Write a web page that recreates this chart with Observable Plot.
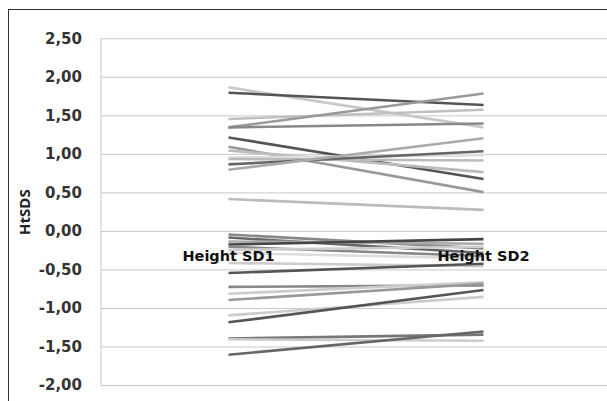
<!DOCTYPE html>
<html><head><meta charset="utf-8">
<script src="https://cdn.jsdelivr.net/npm/d3@7"></script>
<script src="https://cdn.jsdelivr.net/npm/@observablehq/plot@0.6"></script>
<style>
body{margin:0;background:#fff;}
#wrap{position:relative;width:607px;height:401px;overflow:hidden;}
#wrap svg{position:absolute;left:0;top:0;}
#border{position:absolute;left:8px;top:9px;width:700px;height:500px;border-top:1.5px solid #333;border-left:1.5px solid #333;pointer-events:none;}
</style></head>
<body><div id="wrap"><div id="border"></div></div>
<script>
const categories = ["Height SD1", "Height SD2"];
const sd1 = [1.87, 1.80, 1.46, 1.35, 1.35, 1.22, 1.10, 1.05, 0.96, 0.94, 0.87, 0.80, 0.42,
  -0.04, -0.08, -0.13, -0.17, -0.20, -0.24, -0.28, -0.41, -0.54, -0.72, -0.81, -0.89, -1.09, -1.18, -1.39, -1.40, -1.60];
const sd2 = [1.35, 1.64, 1.58, 1.79, 1.40, 0.68, 0.51, 0.77, 0.99, 0.92, 1.04, 1.21, 0.28,
  -0.22, -0.28, -0.16, -0.10, -0.32, -0.20, -0.35, -0.45, -0.42, -0.70, -0.66, -0.68, -0.85, -0.76, -1.34, -1.42, -1.30];
const shades = ["#c8c8c8", "#555555", "#c0c0c0", "#999999", "#888888", "#555555", "#999999", "#bbbbbb", "#dddddd", "#bbbbbb", "#666666", "#aaaaaa", "#bbbbbb",
  "#888888", "#666666", "#aaaaaa", "#444444", "#888888", "#cccccc", "#dddddd", "#cccccc", "#555555", "#888888", "#cccccc", "#999999", "#cccccc", "#555555", "#777777", "#cccccc", "#666666"];
const yTicks = [-2, -1.5, -1, -0.5, 0, 0.5, 1, 1.5, 2, 2.5];
const yLabel = "HtSDS";

const rows = sd1.map((v, i) => ({x1: 1, x2: 2, y1: v, y2: sd2[i], c: shades[i]}));
const fmt = d => d.toFixed(2).replace(".", ",");

const chart = Plot.plot({
  width: 607, height: 401,
  marginLeft: 101, marginRight: 0, marginTop: 38, marginBottom: 16,
  x: {domain: [0.5, 2.5], range: [100.5, 610.5], axis: null},
  y: {domain: [-2, 2.5], range: [385, 38.3], axis: null},
  color: {type: "identity"},
  style: {fontFamily: "DejaVu Sans", background: "transparent"},
  marks: [
    Plot.ruleY(yTicks, {stroke: "#c8c8c8", strokeWidth: 1}),
    Plot.ruleX([0.5], {y1: -2, y2: 2.5, stroke: "#c8c8c8", strokeWidth: 1}),
    Plot.link(rows, {x1: "x1", y1: "y1", x2: "x2", y2: "y2", stroke: "c", strokeWidth: 2.6}),
    Plot.text(yTicks, {x: () => 0.5, y: d => d, text: fmt, textAnchor: "end", dx: -19,
      fontSize: 15, fontWeight: "bold", fill: "#333"}),
    Plot.text(categories, {x: (d, i) => i + 1, y: () => 0, dy: 25, text: d => d,
      fontSize: 14.5, fontWeight: "bold", fill: "#111"}),
    Plot.text([yLabel], {x: () => 0.5, y: () => 0.25, dx: -76, rotate: -90, text: d => d,
      fontSize: 15, fontWeight: "bold", fill: "#222", fontFamily: "Open Sans"})
  ]
});
document.getElementById("wrap").prepend(chart);
</script>
</body></html>
